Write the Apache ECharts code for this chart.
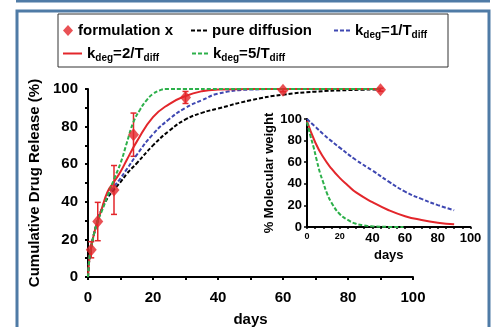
<!DOCTYPE html>
<html><head><meta charset="utf-8">
<script src="https://cdn.jsdelivr.net/npm/echarts@6/dist/echarts.min.js"></script>
<style>html,body{margin:0;padding:0;background:#fff}#c{width:495px;height:327px}</style>
</head><body><div id="c"></div>
<script>
// ---- main panel data ----
const curveDays = [0, 0.5, 1, 2, 3, 4, 6, 8, 10, 12, 15, 20, 25, 30, 35, 40, 50, 60, 70, 80, 90];
const pureDiffusion = [0, 11, 16, 24, 30, 35, 42, 46.5, 50.5, 55, 60.5, 70, 77.8, 83.8, 87.3, 89.6, 94, 97, 98.6, 99.4, 99.8];
const kdeg1 = [0, 11, 16, 24, 30, 35, 43, 48, 52.5, 57.5, 65, 76, 84, 90, 94, 97.5, 99.7, 100, 100, 100, 100];
const kdeg2 = [0, 11, 16, 24, 30, 35, 45.3, 50.6, 56, 62.5, 72, 85, 92, 96.3, 98.8, 99.7, 100, 100, 100, 100, 100];
const k5Days = [0, 0.5, 1, 2, 3, 4, 6, 8, 10, 12, 14, 16, 18, 20, 22, 24, 30, 40, 50, 60, 70, 80, 90];
const kdeg5 = [0, 11, 16, 24, 30, 34, 43, 52, 60.5, 71.7, 82.5, 89, 94, 97.4, 99.2, 100, 100, 100, 100, 100, 100, 100, 100];
const formulationDays = [1, 3, 8, 14, 30, 60, 90];
const formulationValues = [14.5, 29.5, 46.3, 75.7, 95.5, 99.3, 99.6];
const formulationErrors = [4.3, 10.2, 13, 11.5, 3.2, 0.8, 0.8];
const mainXTicks = [0, 20, 40, 60, 80, 100];
const mainYTicks = [0, 20, 40, 60, 80, 100];
// ---- inset data ----
const mwBlueDays = [0, 5, 10, 15, 20, 30, 40, 50, 60, 70, 80, 90];
const mwBlue = [100, 93, 86, 79.5, 73.5, 62, 52.3, 42, 32.7, 26, 20.3, 15.5];
const mwRedDays = [0, 5, 10, 15, 20, 25, 30, 40, 50, 60, 70, 80, 90];
const mwRed = [98, 78.5, 64.5, 54, 45.5, 38.5, 32, 23, 15.5, 10, 6.5, 4, 2.5];
const mwGreenDays = [0, 2, 4, 6, 8, 10, 12, 15, 20, 25, 30, 35, 40, 50, 59];
const mwGreen = [97, 85, 74, 61.5, 50, 41, 32, 22.5, 12, 6.5, 3, 1.5, 0.6, 0.1, 0];
const insetXTicks = [0, 20, 40, 60, 80, 100];
const insetYTicks = [0, 20, 40, 60, 80, 100];

const RED = '#e3262b', BLUE = '#3f48b2', GREEN = '#2db04a', BLACK = '#000';
const FONT = '"Liberation Sans", Arial, sans-serif';
const zip = (a, b) => a.map((v, i) => [v, b[i]]);
const dash = [4, 2];
const DASH_ICON = 'path://M0,0h4v2h-4zM6,0h4v2h-4zM12,0h4v2h-4z';

const legendLabels = {
  'formulation x': '{n|formulation x}',
  'pure diffusion': '{n|pure diffusion}',
  'k1': '{n|k}{s|deg}{n|=1/T}{s|diff}',
  'k2': '{n|k}{s|deg}{n|=2/T}{s|diff}',
  'k5': '{n|k}{s|deg}{n|=5/T}{s|diff}'
};
const legendRich = {
  n: {fontSize: 15, fontWeight: 'bold', fontFamily: FONT, color: '#000'},
  s: {fontSize: 10, fontWeight: 'bold', fontFamily: FONT, color: '#000', padding: [9, 0, 0, 0]}
};
function mkLegend(name, icon, left, top, w, h) {
  return {data: [{name: name, icon: icon}], left: left, top: top, itemWidth: w, itemHeight: h, itemGap: 0,
    selectedMode: false, padding: 0, formatter: n => legendLabels[n],
    textStyle: {rich: legendRich, fontFamily: FONT, fontSize: 15, fontWeight: 'bold', color: '#000'}};
}

const chart = echarts.init(document.getElementById('c'), null, {renderer: 'canvas'});
const axisLbl = (sz, ticks) => ({color: '#000', fontFamily: FONT, fontWeight: 'bold', fontSize: sz,
  formatter: v => ticks.includes(v) ? String(v) : ''});
const lineOpts = {symbol: 'none', smooth: true};

chart.setOption({
  animation: false,
  backgroundColor: '#fff',
  graphic: [
    {type: 'line', shape: {x1: 16, y1: 1, x2: 490, y2: 1}, style: {stroke: '#4f7ba6', lineWidth: 3}},
    {type: 'rect', shape: {x: 17, y: 11, width: 472, height: 400}, style: {fill: 'none', stroke: '#4f7ba6', lineWidth: 3}},
    {type: 'rect', shape: {x: 58, y: 14, width: 390, height: 53}, style: {fill: 'none', stroke: '#333', lineWidth: 1}}
  ],
  legend: [
    mkLegend('formulation x', 'diamond', 63, 23, 10, 11),
    mkLegend('pure diffusion', DASH_ICON, 191, 23, 16, 2),
    mkLegend('k1', DASH_ICON, 334, 23, 16, 2),
    mkLegend('k2', 'rect', 63, 46, 19, 2),
    mkLegend('k5', DASH_ICON, 192, 46, 16, 2)
  ],
  grid: [
    {left: 88, top: 89, width: 325, height: 188, outerBoundsMode: 'none', containLabel: false},
    {left: 307, top: 119, width: 163.5, height: 108, outerBoundsMode: 'none', containLabel: false}
  ],
  xAxis: [
    {type: 'value', gridIndex: 0, min: 0, max: 100, interval: 10,
      name: 'days', nameLocation: 'middle', nameGap: 35,
      nameTextStyle: {fontFamily: FONT, fontWeight: 'bold', fontSize: 15, color: '#000'},
      axisLine: {lineStyle: {color: BLACK, width: 2}},
      axisTick: {show: true, length: 3, lineStyle: {color: BLACK, width: 2}},
      axisLabel: Object.assign(axisLbl(15, mainXTicks), {margin: 13}),
      splitLine: {show: false}},
    {type: 'value', gridIndex: 1, min: 0, max: 100, interval: 5,
      name: 'days', nameLocation: 'middle', nameGap: 22,
      nameTextStyle: {fontFamily: FONT, fontWeight: 'bold', fontSize: 13, color: '#000'},
      axisLine: {lineStyle: {color: BLACK, width: 2}},
      axisTick: {show: true, length: 2, lineStyle: {color: BLACK, width: 1.5}},
      axisLabel: {color: '#000', fontFamily: FONT, fontWeight: 'bold', fontSize: 13, margin: 5,
        formatter: v => !insetXTicks.includes(v) ? '' : (v < 40 ? '{sm|' + v + '}' : String(v)),
        rich: {sm: {fontSize: 9, fontWeight: 'bold', fontFamily: FONT, color: '#000'}}},
      splitLine: {show: false}}
  ],
  yAxis: [
    {type: 'value', gridIndex: 0, min: 0, max: 100, interval: 10,
      name: 'Cumulative Drug Release (%)', nameLocation: 'middle', nameGap: 46,
      nameTextStyle: {fontFamily: FONT, fontWeight: 'bold', fontSize: 15, color: '#000'},
      axisLine: {show: true, lineStyle: {color: BLACK, width: 2}},
      axisTick: {show: true, length: 3, lineStyle: {color: BLACK, width: 2}},
      axisLabel: Object.assign(axisLbl(15, mainYTicks), {margin: 10}),
      splitLine: {show: false}},
    {type: 'value', gridIndex: 1, min: 0, max: 100, interval: 20,
      name: '% Molecular weight', nameLocation: 'middle', nameGap: 31,
      nameTextStyle: {fontFamily: FONT, fontWeight: 'bold', fontSize: 13, color: '#000'},
      axisLine: {show: true, lineStyle: {color: BLACK, width: 2}},
      axisTick: {show: true, length: 3, lineStyle: {color: BLACK, width: 1.5}},
      axisLabel: Object.assign(axisLbl(13, insetYTicks), {margin: 5}),
      splitLine: {show: false}}
  ],
  series: [
    Object.assign({name: 'pure diffusion', type: 'line', xAxisIndex: 0, yAxisIndex: 0, data: zip(curveDays, pureDiffusion),
      lineStyle: {color: BLACK, width: 2, type: dash}, itemStyle: {color: BLACK}}, lineOpts),
    Object.assign({name: 'k1', type: 'line', xAxisIndex: 0, yAxisIndex: 0, data: zip(curveDays, kdeg1),
      lineStyle: {color: BLUE, width: 2, type: dash}, itemStyle: {color: BLUE}}, lineOpts),
    Object.assign({name: 'k2', type: 'line', xAxisIndex: 0, yAxisIndex: 0, data: zip(curveDays, kdeg2),
      lineStyle: {color: RED, width: 2}, itemStyle: {color: RED}}, lineOpts),
    Object.assign({name: 'k5', type: 'line', xAxisIndex: 0, yAxisIndex: 0, data: zip(k5Days, kdeg5),
      lineStyle: {color: GREEN, width: 2, type: dash}, itemStyle: {color: GREEN}}, lineOpts),
    {name: 'errors', type: 'custom', xAxisIndex: 0, yAxisIndex: 0,
      data: formulationDays.map((d, i) => [d, formulationValues[i], formulationErrors[i]]),
      renderItem: function (params, api) {
        const x = api.value(0), y = api.value(1), e = api.value(2);
        const p1 = api.coord([x, y + e]), p2 = api.coord([x, y - e]);
        const cw = 3, st = {stroke: RED, lineWidth: 1.5};
        return {type: 'group', children: [
          {type: 'line', shape: {x1: p1[0], y1: p1[1], x2: p2[0], y2: p2[1]}, style: st},
          {type: 'line', shape: {x1: p1[0] - cw, y1: p1[1], x2: p1[0] + cw, y2: p1[1]}, style: st},
          {type: 'line', shape: {x1: p2[0] - cw, y1: p2[1], x2: p2[0] + cw, y2: p2[1]}, style: st}
        ]};
      }, z: 3},
    {name: 'formulation x', type: 'scatter', xAxisIndex: 0, yAxisIndex: 0, data: zip(formulationDays, formulationValues),
      symbol: 'diamond', symbolSize: [11, 13], itemStyle: {color: RED}, z: 4},
    Object.assign({name: 'mw1', type: 'line', xAxisIndex: 1, yAxisIndex: 1, data: zip(mwBlueDays, mwBlue),
      lineStyle: {color: BLUE, width: 2, type: dash}}, lineOpts),
    Object.assign({name: 'mw2', type: 'line', xAxisIndex: 1, yAxisIndex: 1, data: zip(mwRedDays, mwRed),
      lineStyle: {color: RED, width: 2}}, lineOpts),
    Object.assign({name: 'mw5', type: 'line', xAxisIndex: 1, yAxisIndex: 1, data: zip(mwGreenDays, mwGreen),
      lineStyle: {color: GREEN, width: 2, type: dash}}, lineOpts)
  ]
});
</script></body></html>
